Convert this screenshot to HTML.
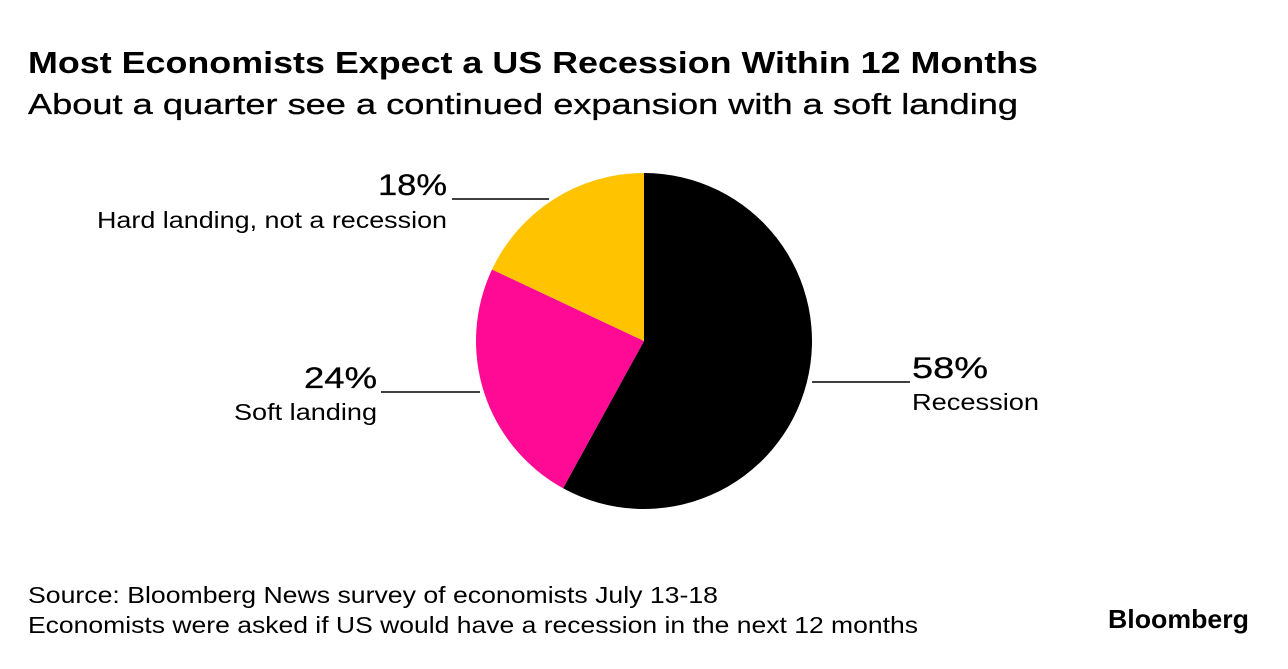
<!DOCTYPE html>
<html><head><meta charset="utf-8"><style>
body{margin:0;background:#fff;width:1288px;height:664px;overflow:hidden;font-family:"Liberation Sans",sans-serif;}
</style></head><body>
<svg width="1288" height="664" style="font-family:'Liberation Sans',sans-serif">
<text x="28" y="73" font-size="31" font-weight="bold" fill="#000" textLength="1010" lengthAdjust="spacingAndGlyphs">Most Economists Expect a US Recession Within 12 Months</text>
<text x="28" y="114" font-size="29" fill="#000" stroke="#000" stroke-width="0.3" textLength="990" lengthAdjust="spacingAndGlyphs">About a quarter see a continued expansion with a soft landing</text>
<g id="pie"></g>
<text x="28" y="603" font-size="23" fill="#000" textLength="690" lengthAdjust="spacingAndGlyphs">Source: Bloomberg News survey of economists July 13-18</text>
<text x="28" y="633" font-size="23" fill="#000" textLength="890" lengthAdjust="spacingAndGlyphs">Economists were asked if US would have a recession in the next 12 months</text>
<text x="1108" y="628" font-size="26" font-weight="bold" fill="#000" textLength="141" lengthAdjust="spacingAndGlyphs">Bloomberg</text>
</svg>
<script>
const categories=["Recession","Soft landing","Hard landing, not a recession"];
const values=[58,24,18];
const labels=["58%","24%","18%"];
const colors=["#000000","#ff0a94","#ffc300"];
const cx=644,cy=341,r=168;
const ns="http://www.w3.org/2000/svg";
const g=document.getElementById('pie');
const total=values.reduce((a,b)=>a+b,0);
function pt(a,rr){return [cx+rr*Math.sin(a),cy-rr*Math.cos(a)];}
let a0=0;
const layout=[
 {lx1:812,lx2:910,ly:382,tx:912,anchor:"start",py:378,ny:410,pw:76,nw:127},
 {lx1:381,lx2:480,ly:392,tx:377,anchor:"end",py:388,ny:420,pw:73,nw:143},
 {lx1:452,lx2:549,ly:199,tx:447,anchor:"end",py:195,ny:228,pw:69,nw:350}
];
values.forEach((v,i)=>{
 const a1=a0+v/total*2*Math.PI;
 const p0=pt(a0,r),p1=pt(a1,r);
 const large=(a1-a0)>Math.PI?1:0;
 const p=document.createElementNS(ns,'path');
 p.setAttribute('d',`M${cx},${cy}L${p0[0]},${p0[1]}A${r},${r} 0 ${large} 1 ${p1[0]},${p1[1]}Z`);
 p.setAttribute('fill',colors[i]);
 
 
 g.appendChild(p);
 const L=layout[i];
 const ln=document.createElementNS(ns,'line');
 ln.setAttribute('x1',L.lx1);ln.setAttribute('x2',L.lx2);ln.setAttribute('y1',L.ly);ln.setAttribute('y2',L.ly);
 ln.setAttribute('stroke','#000');ln.setAttribute('stroke-width','1.5');
 
 
 g.appendChild(ln);
 const t1=document.createElementNS(ns,'text');
 t1.setAttribute('x',L.tx);t1.setAttribute('y',L.py);t1.setAttribute('text-anchor',L.anchor);t1.setAttribute('font-size','30');
 t1.setAttribute('textLength',L.pw);t1.setAttribute('lengthAdjust','spacingAndGlyphs');
 t1.setAttribute('stroke','#000');t1.setAttribute('stroke-width','0.3');
 t1.textContent=labels[i];
 
 
 g.appendChild(t1);
 const t2=document.createElementNS(ns,'text');
 t2.setAttribute('x',L.tx);t2.setAttribute('y',L.ny);t2.setAttribute('text-anchor',L.anchor);t2.setAttribute('font-size','23');
 t2.setAttribute('textLength',L.nw);t2.setAttribute('lengthAdjust','spacingAndGlyphs');
 t2.textContent=categories[i];
 
 
 g.appendChild(t2);
 a0=a1;
});
</script>
</body></html>
